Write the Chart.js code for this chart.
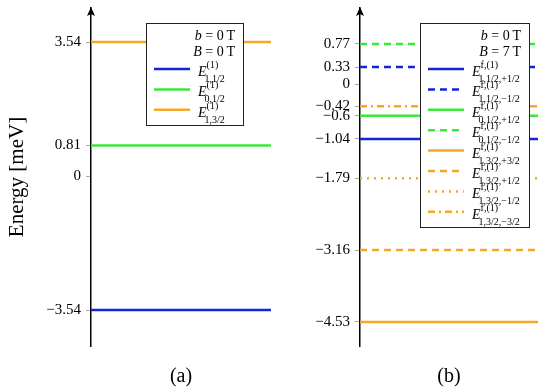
<!DOCTYPE html>
<html>
<head>
<meta charset="utf-8">
<script src="https://cdn.jsdelivr.net/npm/chart.js@4.4.1/dist/chart.umd.min.js"></script>
<style>
  html, body { margin: 0; padding: 0; background: #fff; }
  #wrap { position: relative; width: 550px; height: 391px; }
  .panel { position: absolute; top: 0; width: 275px; height: 391px; }
</style>
</head>
<body>
<div id="wrap">
  <div class="panel" style="left:0"><canvas id="chartA"></canvas></div>
  <div class="panel" style="left:275px"><canvas id="chartB"></canvas></div>
</div>
<script>
// panel (a): b = 0 T, B = 0 T
const levelsA = [-3.54, 0.81, 3.54];
const subsA = ['1,1/2', '0,1/2', '1,3/2'];
const supA = '(1)';
const colorsA = ['blue', 'green', 'orange'];
const stylesA = ['solid', 'solid', 'solid'];
const ticksA = [-3.54, 0, 0.81, 3.54];

// panel (b): b = 0 T, B = 7 T
const levelsB = [-1.04, 0.33, -0.6, 0.77, -4.53, -3.16, -1.79, -0.42];
const subsB = ['1,1/2,+1/2', '1,1/2,\u22121/2', '0,1/2,+1/2', '0,1/2,\u22121/2',
               '1,3/2,+3/2', '1,3/2,+1/2', '1,3/2,\u22121/2', '1,3/2,\u22123/2'];
const supB = 'f,(1)';
const colorsB = ['blue', 'blue', 'green', 'green', 'orange', 'orange', 'orange', 'orange'];
const stylesB = ['solid', 'dashed', 'solid', 'dashed', 'solid', 'dashed', 'dotted', 'dashdot'];
const ticksB = [-4.53, -3.16, -1.79, -1.04, -0.6, -0.42, 0, 0.33, 0.77];

const palette = { blue: '#1424d6', green: '#3ae83a', orange: '#f6a723' };
const dashes = { solid: [], dashed: [7, 5], dotted: [2, 5], dashdot: [7, 4, 2, 4] };
const serif = '"Liberation Serif", "DejaVu Serif", serif';

function fmt(v) {
  return v < 0 ? '\u2212' + Math.abs(v) : String(v);
}

const levelDrawer = {
  id: 'levelDrawer',
  afterDraw(chart, args, opts) {
    const ctx = chart.ctx;
    const area = chart.chartArea;
    // arrow head on the energy axis
    ctx.save();
    ctx.fillStyle = '#000';
    ctx.beginPath();
    ctx.moveTo(area.left, area.top - 1);
    ctx.lineTo(area.left - 4, area.top + 8);
    ctx.lineTo(area.left, area.top + 6);
    ctx.lineTo(area.left + 4, area.top + 8);
    ctx.closePath();
    ctx.fill();

    // legend box
    const b = opts.box;
    ctx.fillStyle = '#fff';
    ctx.fillRect(b.x, b.y, b.w, b.h);
    ctx.strokeStyle = '#222';
    ctx.lineWidth = 1;
    ctx.strokeRect(b.x + 0.5, b.y + 0.5, b.w, b.h);

    ctx.fillStyle = '#000';
    ctx.textAlign = 'right';
    ctx.textBaseline = 'alphabetic';
    opts.header.forEach((h, k) => {
      const yy = b.y + 17 + k * 16;
      ctx.font = '14px ' + serif;
      const rest = ' = ' + h[1] + '\u2009T';
      ctx.fillText(rest, b.x + b.w - 8, yy);
      const rw = ctx.measureText(rest).width;
      ctx.font = 'italic 14px ' + serif;
      ctx.fillText(h[0], b.x + b.w - 8 - rw, yy);
    });

    ctx.textAlign = 'left';
    chart.data.datasets.forEach((ds, i) => {
      const yy = b.y + 46 + i * 20.4;
      ctx.strokeStyle = ds.borderColor;
      ctx.lineWidth = 2.5;
      ctx.setLineDash(ds.borderDash || []);
      ctx.beginPath();
      ctx.moveTo(b.x + 8, yy);
      ctx.lineTo(b.x + 44, yy);
      ctx.stroke();
      ctx.setLineDash([]);
      const tx = b.x + 52;
      ctx.fillStyle = '#000';
      ctx.font = 'italic 14px ' + serif;
      ctx.fillText('E', tx, yy + 7);
      const ew = ctx.measureText('E').width;
      ctx.font = '10px ' + serif;
      ctx.fillText(opts.sup, tx + ew, yy - 1);
      ctx.fillText(ds.label, tx + ew - 2, yy + 13);
    });

    // panel caption
    ctx.font = '20px ' + serif;
    ctx.textAlign = 'center';
    ctx.textBaseline = 'middle';
    ctx.fillText(opts.caption, (area.left + area.right) / 2, 377);
    ctx.restore();
  }
};

function makeChart(id, levels, subs, colors, styles, tickVals, yMin, yMax, axisX, padRight, withTitle, legendOpts) {
  const datasets = levels.map((v, i) => ({
    label: subs[i],
    data: [{ x: 0, y: v }, { x: 1, y: v }],
    borderColor: palette[colors[i]],
    borderDash: dashes[styles[i]],
    borderWidth: 2.5,
    pointRadius: 0,
    fill: false
  }));
  return new Chart(document.getElementById(id), {
    type: 'line',
    data: { datasets },
    options: {
      responsive: true,
      maintainAspectRatio: false,
      animation: false,
      layout: { padding: { left: 0, right: padRight, top: 8, bottom: 45 } },
      plugins: {
        legend: { display: false },
        tooltip: { enabled: false },
        levelDrawer: legendOpts
      },
      scales: {
        x: { type: 'linear', min: 0, max: 1, display: false },
        y: {
          type: 'linear',
          min: yMin,
          max: yMax,
          afterBuildTicks(scale) {
            scale.ticks = tickVals.map(v => ({ value: v }));
          },
          afterFit(scale) {
            scale.width = axisX;
            scale.paddingTop = 0;
            scale.paddingBottom = 0;
          },
          ticks: {
            autoSkip: false,
            color: '#000',
            padding: 5,
            font: { family: serif, size: 15 },
            callback: v => fmt(v)
          },
          grid: { drawOnChartArea: false, drawTicks: true, tickLength: 5, color: '#aaa' },
          border: { color: '#000', width: 1.5 },
          title: {
            display: withTitle,
            text: 'Energy [meV]',
            color: '#000',
            font: { family: serif, size: 21 },
            padding: { top: 5, bottom: 0 }
          }
        }
      }
    },
    plugins: [levelDrawer]
  });
}

makeChart('chartA', levelsA, subsA, colorsA, stylesA, ticksA, -4.49, 4.44, 91, 4, true, {
  box: { x: 146, y: 23, w: 97, h: 102 },
  header: [['b', '0'], ['B', '0']],
  sup: supA,
  caption: '(a)'
});

makeChart('chartB', levelsB, subsB, colorsB, stylesB, ticksB, -4.99, 1.456, 85, 12, false, {
  box: { x: 145, y: 23, w: 109, h: 204 },
  header: [['b', '0'], ['B', '7']],
  sup: supB,
  caption: '(b)'
});
</script>
</body>
</html>
